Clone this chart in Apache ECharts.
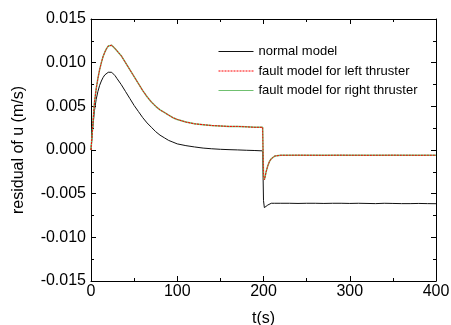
<!DOCTYPE html>
<html>
<head>
<meta charset="utf-8">
<script src="https://cdn.jsdelivr.net/npm/echarts@6/dist/echarts.min.js"></script>
<style>html,body{margin:0;padding:0;background:#fff;}#c{width:451px;height:325px;}</style>
</head>
<body>
<div id="c"></div>
<script>
const seriesNames = ['normal model', 'fault model for left thruster', 'fault model for right thruster'];
const xTicks = [0, 100, 200, 300, 400];
const yTicks = [-0.015, -0.010, -0.005, 0.000, 0.005, 0.010, 0.015];

const t = [0,2,4,6,8,10,12,14,16,18,20,22,24,26,28,30,
  35,40,45,50,55,60,65,70,75,80,85,90,95,100,
  110,120,130,140,150,160,170,180,190,
  199,200,201,202,203,
  205,207,209,211,213,215,
  220,
  230,240,250,260,270,280,290,300,310,320,330,340,350,360,370,380,390,400];

const normalModel = [0,0.0025,0.0045,0.0058,0.0067,0.0074,0.0079,0.0083,0.0086,0.0088,0.0089,0.0090,0.0089,0.0087,0.0085,0.0082,
  0.0075,0.0067,0.0059,0.0051,0.0044,0.0037,0.0031,0.0026,0.0021,0.0017,0.0014,0.0011,0.0009,0.0007,
  0.0005,0.00035,0.00022,0.00014,0.00008,0.00004,0.00001,-0.00003,-0.00006,
  -0.0001,-0.0058,-0.0066,-0.0066,-0.0065,
  -0.0063,-0.0062,-0.0061,-0.0061,-0.0061,-0.0061,
  -0.0061,
  -0.0061,-0.00612,-0.0061,-0.0061,-0.00612,-0.0061,-0.0061,-0.00612,-0.0061,-0.00612,-0.00614,-0.0061,-0.00612,-0.00614,-0.00614,-0.00612,-0.00614,-0.00615];

const faultLeft = [0,0.0028,0.0054,0.0070,0.0082,0.0092,0.0100,0.0107,0.0112,0.0116,0.0119,0.0121,0.0120,0.0118,0.0116,0.0114,
  0.0108,0.0100,0.0092,0.0084,0.0076,0.0068,0.0061,0.0055,0.0050,0.0046,0.0043,0.0040,0.0037,0.0035,
  0.0032,0.0030,0.0029,0.0028,0.00275,0.0027,0.0027,0.00265,0.0026,
  0.0026,-0.0030,-0.0034,-0.0030,-0.0025,
  -0.0018,-0.0013,-0.0010,-0.0008,-0.0007,-0.00065,
  -0.0006,
  -0.0006,-0.00059,-0.0006,-0.0006,-0.00061,-0.0006,-0.00059,-0.0006,-0.0006,-0.00061,-0.0006,-0.0006,-0.00059,-0.0006,-0.0006,-0.00061,-0.0006,-0.0006];

const faultRight = [0,0.0028,0.0054,0.0070,0.0082,0.0092,0.0100,0.0107,0.0112,0.0116,0.0119,0.0121,0.0120,0.0118,0.0116,0.0114,
  0.0108,0.0100,0.0092,0.0084,0.0076,0.0068,0.0061,0.0055,0.0050,0.0046,0.0043,0.0040,0.0037,0.0035,
  0.0032,0.0030,0.0029,0.0028,0.00275,0.0027,0.0027,0.00265,0.0026,
  0.0026,-0.0030,-0.0034,-0.0030,-0.0025,
  -0.0018,-0.0013,-0.0010,-0.0008,-0.0007,-0.00065,
  -0.0006,
  -0.0006,-0.0006,-0.0006,-0.00059,-0.0006,-0.0006,-0.0006,-0.00061,-0.0006,-0.0006,-0.0006,-0.00059,-0.0006,-0.0006,-0.0006,-0.0006,-0.00061,-0.0006];

const pairs = v => t.map((x, i) => [x, v[i]]);
const FONT = '"Liberation Sans", Arial, sans-serif';
const fmtY = v => (Math.abs(v) < 1e-9 ? 0 : v).toFixed(3);

const axisCommon = {
  axisLine: { show: true, onZero: false, lineStyle: { color: '#000', width: 1 } },
  axisTick: { show: true, inside: true, length: 5, lineStyle: { color: '#000' } },
  minorTick: { show: true, splitNumber: 2, length: 3, lineStyle: { color: '#000' } },
  splitLine: { show: false },
  minorSplitLine: { show: false }
};

const chart = echarts.init(document.getElementById('c'), null, { renderer: 'canvas' });
chart.setOption({
  animation: false,
  backgroundColor: '#fff',
  textStyle: { fontFamily: FONT },
  grid: { left: 91, right: 15, top: 19, bottom: 44, containLabel: false, outerBoundsMode: 'none' },
  legend: {
    orient: 'vertical',
    left: 218,
    top: 45,
    padding: 0,
    itemWidth: 35,
    itemHeight: 12,
    itemGap: 6.5,
    itemGap: 6.5,
    itemStyle: { opacity: 0 },
    lineStyle: { width: 1 },
    data: seriesNames,
    textStyle: { fontFamily: FONT, fontSize: 13, color: '#000' }
  },
  xAxis: [
    Object.assign({}, axisCommon, {
      type: 'value', min: xTicks[0], max: xTicks[xTicks.length - 1], interval: 100, position: 'bottom',
      name: 't(s)', nameLocation: 'middle', nameGap: 30,
      nameTextStyle: { fontFamily: FONT, fontSize: 16, color: '#000' },
      axisLabel: { fontFamily: FONT, fontSize: 16, color: '#000', margin: 3 }
    }),
    Object.assign({}, axisCommon, {
      type: 'value', min: xTicks[0], max: xTicks[xTicks.length - 1], interval: 100, position: 'top',
      axisLabel: { show: false }
    })
  ],
  yAxis: [
    Object.assign({}, axisCommon, {
      type: 'value', min: yTicks[0], max: yTicks[yTicks.length - 1], interval: 0.005, position: 'left',
      name: 'residual of u (m/s)', nameLocation: 'middle', nameGap: 64, nameRotate: 90,
      nameTextStyle: { fontFamily: FONT, fontSize: 16, color: '#000' },
      axisLabel: { fontFamily: FONT, fontSize: 16, color: '#000', margin: 5, formatter: fmtY }
    }),
    Object.assign({}, axisCommon, {
      type: 'value', min: yTicks[0], max: yTicks[yTicks.length - 1], interval: 0.005, position: 'right',
      axisLabel: { show: false }
    })
  ],
  series: [
    {
      name: seriesNames[0], type: 'line', data: pairs(normalModel), symbol: 'none',
      lineStyle: { color: '#111', width: 1 }, itemStyle: { color: '#111' }, z: 3
    },
    {
      name: seriesNames[2], type: 'line', data: pairs(faultRight), symbol: 'none',
      lineStyle: { color: '#70c070', width: 1.5 }, itemStyle: { color: '#70c070' }, z: 4
    },
    {
      name: seriesNames[1], type: 'line', data: pairs(faultLeft), symbol: 'none',
      lineStyle: { color: '#ff0000', width: 1, type: [2, 1] }, itemStyle: { color: '#ff0000' }, z: 5
    }
  ]
});
</script>
</body>
</html>
